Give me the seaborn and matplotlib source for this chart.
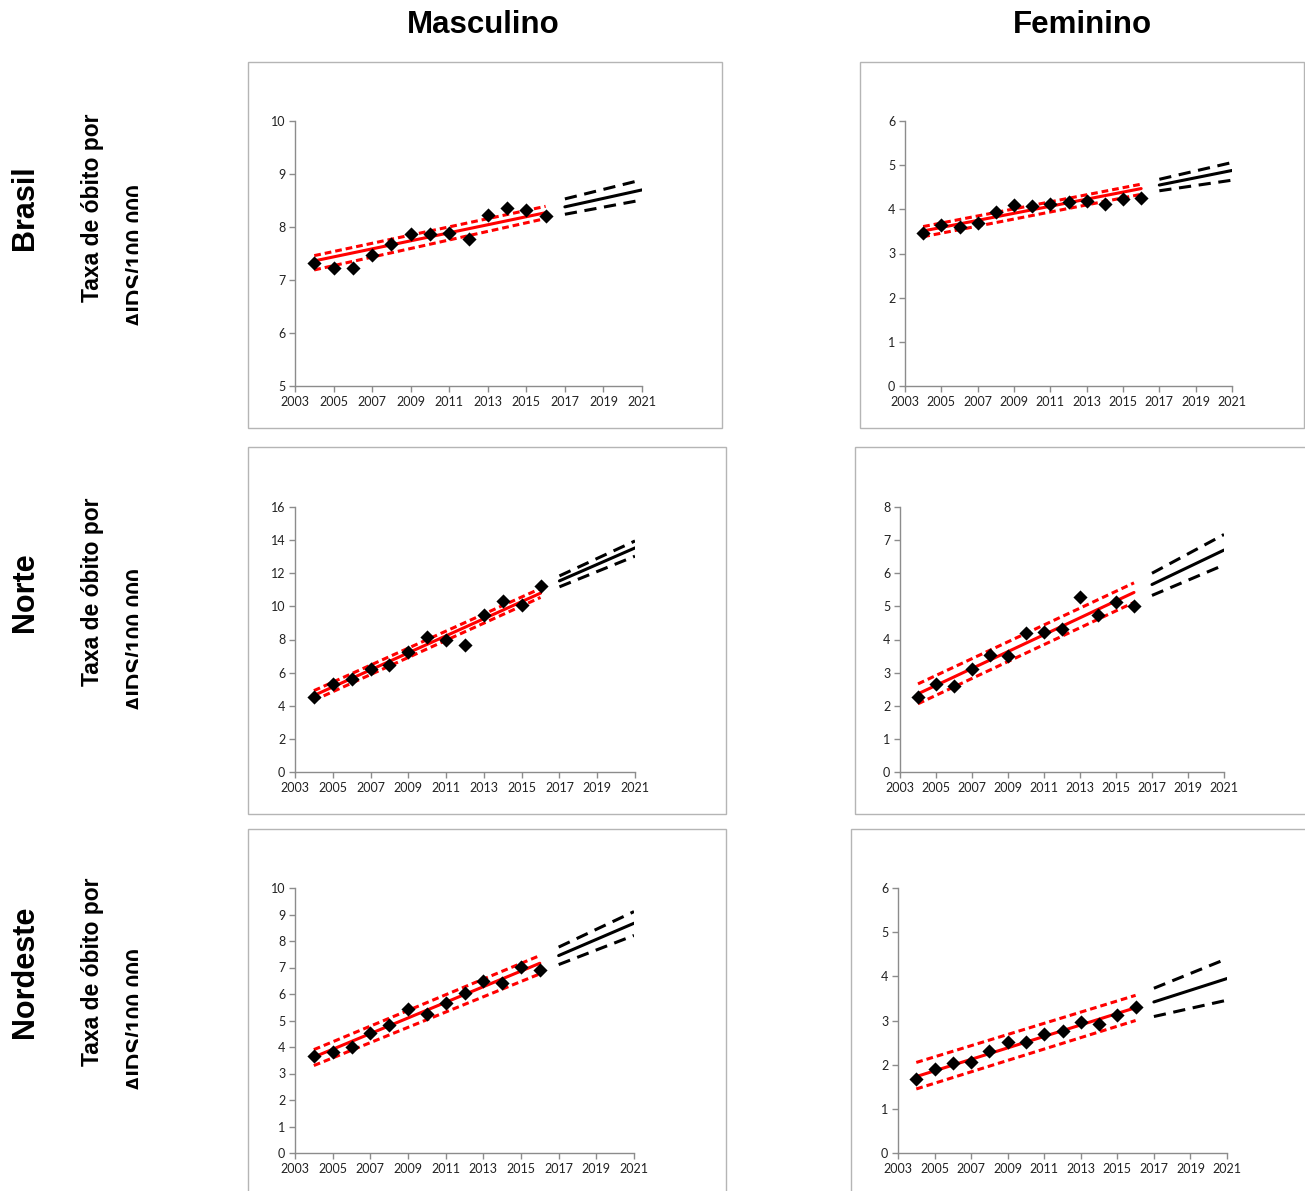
import numpy as np
import pandas as pd
import matplotlib
matplotlib.use("Agg")
import matplotlib.pyplot as plt
from matplotlib.patches import Rectangle
from matplotlib.transforms import Bbox, TransformedBbox
import seaborn as sns

sns.set_theme(style="white")
plt.rcParams['font.family'] = ['Lato', 'DejaVu Sans']

years = list(range(2004, 2017))
fit_years = [2004, 2016]
fc_years = [2017, 2021]

# Observed rates
brasil_m = [7.33, 7.22, 7.22, 7.47, 7.68, 7.86, 7.87, 7.88, 7.78, 8.22, 8.36, 8.33, 8.21]
brasil_f = [3.46, 3.64, 3.61, 3.69, 3.94, 4.09, 4.08, 4.12, 4.16, 4.20, 4.11, 4.24, 4.25]
norte_m = [4.53, 5.33, 5.63, 6.21, 6.47, 7.23, 8.18, 7.96, 7.66, 9.50, 10.32, 10.10, 11.24]
norte_f = [2.27, 2.65, 2.60, 3.11, 3.52, 3.50, 4.19, 4.24, 4.31, 5.29, 4.75, 5.12, 5.01]
nordeste_m = [3.65, 3.80, 4.00, 4.52, 4.83, 5.43, 5.23, 5.66, 6.05, 6.49, 6.41, 7.01, 6.91]
nordeste_f = [1.67, 1.90, 2.03, 2.06, 2.30, 2.52, 2.52, 2.70, 2.76, 2.97, 2.91, 3.13, 3.31]

# Fitted trend (2004, 2016): fit, lower, upper
brasil_m_fit = [7.36, 8.27]; brasil_m_lo = [7.19, 8.16]; brasil_m_hi = [7.46, 8.39]
brasil_f_fit = [3.51, 4.47]; brasil_f_lo = [3.38, 4.34]; brasil_f_hi = [3.61, 4.57]
norte_m_fit = [4.62, 10.80]; norte_m_lo = [4.33, 10.54]; norte_m_hi = [4.91, 11.08]
norte_f_fit = [2.36, 5.42]; norte_f_lo = [2.06, 5.12]; norte_f_hi = [2.66, 5.71]
nordeste_m_fit = [3.62, 7.16]; nordeste_m_lo = [3.30, 6.76]; nordeste_m_hi = [3.90, 7.45]
nordeste_f_fit = [1.73, 3.29]; nordeste_f_lo = [1.45, 3.00]; nordeste_f_hi = [2.05, 3.57]

# Forecast (2017, 2021): forecast, lower, upper
brasil_m_fc = [8.38, 8.70]; brasil_m_fc_lo = [8.24, 8.51]; brasil_m_fc_hi = [8.53, 8.89]
brasil_f_fc = [4.55, 4.88]; brasil_f_fc_lo = [4.42, 4.66]; brasil_f_fc_hi = [4.68, 5.06]
norte_m_fc = [11.54, 13.53]; norte_m_fc_lo = [11.18, 13.03]; norte_m_fc_hi = [11.84, 13.95]
norte_f_fc = [5.66, 6.70]; norte_f_fc_lo = [5.33, 6.25]; norte_f_fc_hi = [6.00, 7.17]
nordeste_m_fc = [7.45, 8.67]; nordeste_m_fc_lo = [7.11, 8.21]; nordeste_m_fc_hi = [7.77, 9.11]
nordeste_f_fc = [3.42, 3.95]; nordeste_f_fc_lo = [3.09, 3.46]; nordeste_f_fc_hi = [3.73, 4.40]

col_titles = ["Masculino", "Feminino"]
row_titles = ["Brasil", "Norte", "Nordeste"]
ylabel_l1 = "Taxa de óbito por"
ylabel_l2 = "AIDS/100.000"
xticks = list(range(2003, 2022, 2))

W, H = 1305, 1191
fig = plt.figure(figsize=(W / 100, H / 100), dpi=100)

def fx(px):
    return px / W

def fy(py):
    return 1 - py / H

panels = [
    (0, 0, brasil_m, brasil_m_fit, brasil_m_lo, brasil_m_hi, brasil_m_fc, brasil_m_fc_lo, brasil_m_fc_hi,
     (5, 10), 1, (295, 121, 642, 386), (248, 62, 722, 428)),
    (0, 1, brasil_f, brasil_f_fit, brasil_f_lo, brasil_f_hi, brasil_f_fc, brasil_f_fc_lo, brasil_f_fc_hi,
     (0, 6), 1, (905, 121, 1232, 386), (860, 62, 1304, 428)),
    (1, 0, norte_m, norte_m_fit, norte_m_lo, norte_m_hi, norte_m_fc, norte_m_fc_lo, norte_m_fc_hi,
     (0, 16), 2, (295, 507, 635, 772), (248, 447, 726, 814)),
    (1, 1, norte_f, norte_f_fit, norte_f_lo, norte_f_hi, norte_f_fc, norte_f_fc_lo, norte_f_fc_hi,
     (0, 8), 1, (900, 507, 1224, 772), (855, 447, 1320, 814)),
    (2, 0, nordeste_m, nordeste_m_fit, nordeste_m_lo, nordeste_m_hi, nordeste_m_fc, nordeste_m_fc_lo, nordeste_m_fc_hi,
     (0, 10), 1, (295, 888, 634, 1153), (248, 829, 726, 1210)),
    (2, 1, nordeste_f, nordeste_f_fit, nordeste_f_lo, nordeste_f_hi, nordeste_f_fc, nordeste_f_fc_lo, nordeste_f_fc_hi,
     (0, 6), 1, (898, 888, 1227, 1153), (851, 829, 1320, 1210)),
]

spine_c = "#8c8c8c"
red = "#ff0000"

for (r, c, obs, fit, lo, hi, fc, fclo, fchi, ylim, ystep, abox, fbox) in panels:
    fig.patches.append(Rectangle((fx(fbox[0]), fy(fbox[3])), fx(fbox[2] - fbox[0]), (fbox[3] - fbox[1]) / H,
                                 transform=fig.transFigure, fill=False, edgecolor="#b5b5b5", lw=1.0, zorder=0))
    ax = fig.add_axes([fx(abox[0]), fy(abox[3]), fx(abox[2] - abox[0]), (abox[3] - abox[1]) / H])
    df_obs = pd.DataFrame({"ano": years, "taxa": obs})
    df_fit = pd.DataFrame({"ano": fit_years, "fit": fit, "lo": lo, "hi": hi})
    df_fc = pd.DataFrame({"ano": fc_years, "fc": fc, "lo": fclo, "hi": fchi})

    sns.lineplot(data=df_fit, x="ano", y="fit", ax=ax, color=red, lw=2.2, zorder=3)
    sns.lineplot(data=df_fit, x="ano", y="lo", ax=ax, color=red, lw=2.2, zorder=3).lines[-1].set_dashes((2.2, 1.3))
    sns.lineplot(data=df_fit, x="ano", y="hi", ax=ax, color=red, lw=2.2, zorder=3).lines[-1].set_dashes((2.2, 1.3))
    sns.lineplot(data=df_fc, x="ano", y="fc", ax=ax, color="black", lw=2.2, zorder=3)
    sns.lineplot(data=df_fc, x="ano", y="lo", ax=ax, color="black", lw=2.2, zorder=3).lines[-1].set_dashes((4, 2.5))
    sns.lineplot(data=df_fc, x="ano", y="hi", ax=ax, color="black", lw=2.2, zorder=3).lines[-1].set_dashes((4, 2.5))
    sns.scatterplot(data=df_obs, x="ano", y="taxa", ax=ax, marker="D", color="black", s=52,
                    edgecolor="black", linewidth=0, zorder=4)

    ax.set_xlim(2003, 2021)
    ax.set_ylim(*ylim)
    ax.set_xticks(xticks)
    ax.set_yticks(np.arange(ylim[0], ylim[1] + 0.001, ystep))
    ax.set_xlabel("")
    ax.set_ylabel("")
    ax.set_facecolor("none")
    for s in ["top", "right"]:
        ax.spines[s].set_visible(False)
    for s in ["left", "bottom"]:
        ax.spines[s].set_color(spine_c)
        ax.spines[s].set_linewidth(1.0)
    ax.tick_params(axis="both", which="major", direction="out", length=4, width=1, color=spine_c,
                   labelsize=9, labelcolor="#222222", pad=3, left=True, bottom=True)
    ax.grid(False)

lab_font = ["Liberation Sans", "DejaVu Sans"]

for i, t in enumerate(col_titles):
    fig.text(fx([483, 1082][i]), fy(25), t, ha="center", va="center", fontsize=22.5, fontweight="bold",
             family=lab_font, color="black")

clip_bbox = TransformedBbox(Bbox([[0, 0], [fx(138), 1]]), fig.transFigure)
row_centers = [208, 592, 972]
for i, t in enumerate(row_titles):
    cy = row_centers[i]
    fig.text(fx(25), fy(cy), t, rotation=90, ha="center", va="center", fontsize=22, fontweight="bold",
             family=lab_font, color="black")
    fig.text(fx(93), fy(cy), ylabel_l1, rotation=90, ha="center", va="center", fontsize=16.5,
             fontweight="bold", family=lab_font, color="black")
    t2 = fig.text(fx(137), fy(cy + 47), ylabel_l2, rotation=90, ha="center", va="center", fontsize=16.5,
                  fontweight="bold", family=lab_font, color="black")
    t2.set_clip_box(clip_bbox)
    t2.set_clip_on(True)

fig.savefig("out.png", dpi=100)
